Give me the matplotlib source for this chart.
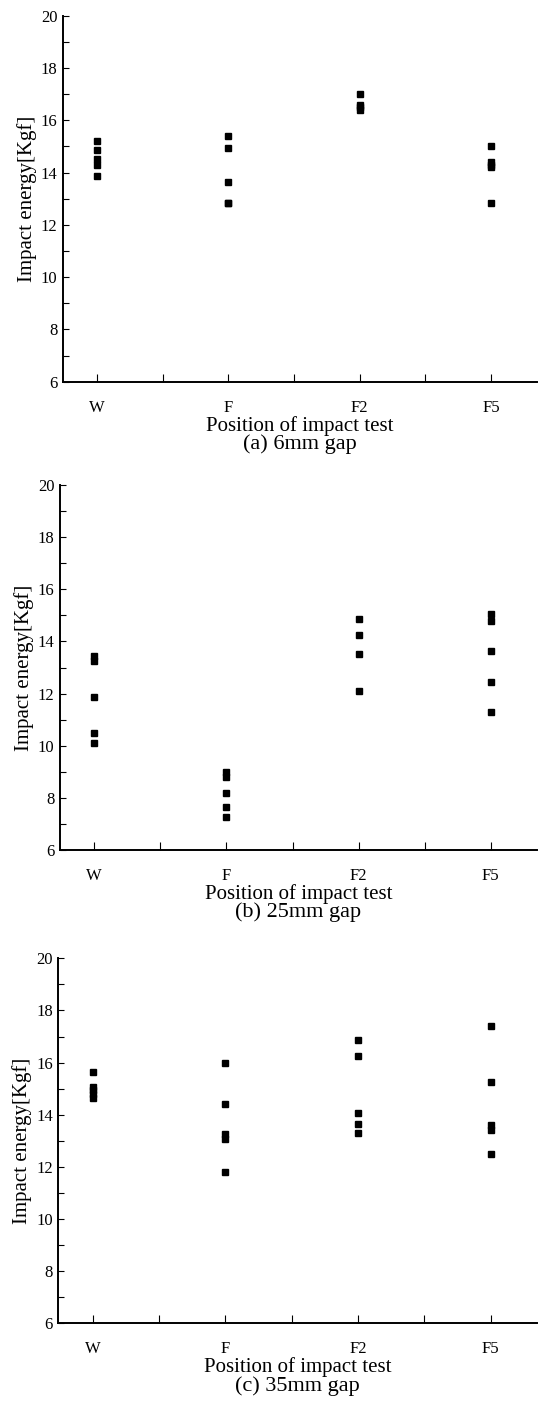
import numpy as np
import matplotlib.pyplot as plt

positions = ['W', 'F', 'F2', 'F5']

# impact energy readings, 6mm gap
gap6_W = [15.2, 14.85, 14.5, 14.3, 13.85]
gap6_F = [15.4, 14.95, 13.65, 12.85, 12.85]
gap6_F2 = [17.0, 16.6, 16.5, 16.4]
gap6_F5 = [15.0, 14.4, 14.3, 14.2, 12.85]

# 25mm gap
gap25_W = [13.45, 13.25, 11.85, 10.5, 10.1]
gap25_F = [9.0, 8.8, 8.2, 7.65, 7.25]
gap25_F2 = [14.85, 14.25, 13.5, 12.1]
gap25_F5 = [15.05, 14.8, 13.65, 12.45, 11.3]

# 35mm gap
gap35_W = [15.65, 15.05, 14.95, 14.8, 14.65]
gap35_F = [16.0, 14.4, 13.25, 13.05, 11.8]
gap35_F2 = [16.85, 16.25, 14.05, 13.65, 13.3]
gap35_F5 = [17.4, 15.25, 13.6, 13.4, 12.5]

panels = [
    ([gap6_W, gap6_F, gap6_F2, gap6_F5], '(a) 6mm gap'),
    ([gap25_W, gap25_F, gap25_F2, gap25_F5], '(b) 25mm gap'),
    ([gap35_W, gap35_F, gap35_F2, gap35_F5], '(c) 35mm gap'),
]

plt.rcParams['font.family'] = 'Liberation Serif'

fig = plt.figure(figsize=(5.38, 14.07), dpi=100)
W, H = 538, 1407
# axes boxes in pixels: left, top, bottom
boxes = [(63, 15.7, 381.7), (60, 485, 850), (58.3, 958.3, 1323.3)]

for (groups, caption), (l, t, b) in zip(panels, boxes):
    ax = fig.add_axes([l / W, 1 - b / H, (537 - l) / W, (b - t) / H])
    for i, vals in enumerate(groups):
        ax.plot([i] * len(vals), vals, 's', color='black', markersize=5, linestyle='none')
    ax.set_xlim(-0.26, 3.35)
    ax.set_ylim(6, 20)
    ax.set_xticks(range(len(positions)))
    ax.set_xticklabels(positions)
    ax.set_xticks(np.arange(0.5, 3.5, 1), minor=True)
    ax.set_yticks(np.arange(6, 21, 2))
    ax.set_yticks(np.arange(7, 20, 2), minor=True)
    ax.tick_params(axis='x', which='both', direction='in', length=6, width=0.8, pad=13, labelsize=12)
    ax.tick_params(axis='y', which='both', direction='in', length=4, width=0.8, pad=4, labelsize=12)
    ax.spines['top'].set_visible(False)
    ax.spines['right'].set_visible(False)
    ax.spines['left'].set_linewidth(1.4)
    ax.spines['bottom'].set_linewidth(1.4)
    ax.set_xlabel('Position of impact test', fontsize=15, labelpad=0)
    ax.set_ylabel('Impact energy[Kgf]', fontsize=15, labelpad=3)
    ax.annotate(caption, xy=(0.5, 0), xycoords='axes fraction', xytext=(0, -45),
                textcoords='offset points', ha='center', va='center', fontsize=16)

plt.savefig('out.png', dpi=100)
